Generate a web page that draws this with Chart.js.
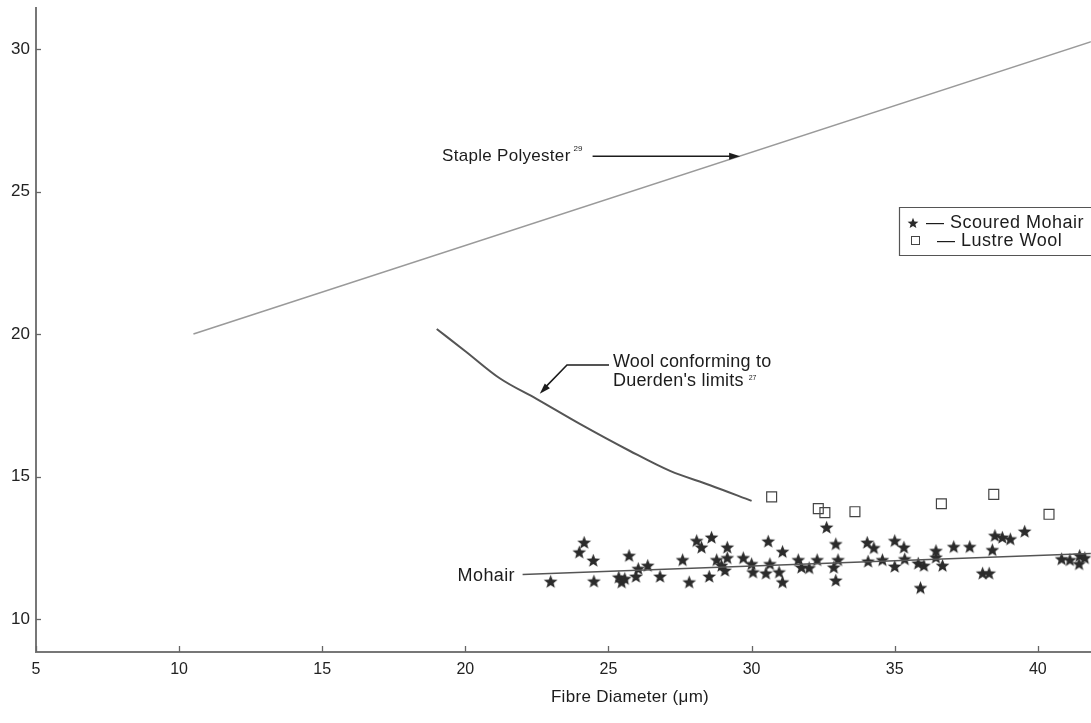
<!DOCTYPE html>
<html><head><meta charset="utf-8">
<script src="https://cdn.jsdelivr.net/npm/chart.js@4/dist/chart.umd.min.js"></script>
<style>html,body{margin:0;padding:0;background:#fff;overflow:hidden}#wrap{width:1091px;height:723px;position:relative;overflow:hidden}canvas{display:block}</style>
</head><body><div id="wrap"><canvas id="c" width="1099" height="723"></canvas></div>
<script>
// ---- data ----
const xTickValues = [5, 10, 15, 20, 25, 30, 35, 40];
const yTickValues = [10, 15, 20, 25, 30];

const mohairDiameter = [22.98,23.98,24.15,24.47,24.49,25.36,25.46,25.57,25.72,25.96,26.04,26.37,26.80,27.59,27.82,28.08,28.25,28.60,28.52,28.78,28.95,29.07,29.15,29.15,29.71,30.00,30.05,
  30.58,30.64,30.50,31.08,30.96,31.08,31.63,31.74,32.01,32.29,32.62,32.94,33.02,32.87,32.94,34.04,34.27,34.07,34.57,35.00,35.32,35.00,35.35,35.82,36.02,35.90,36.44,36.44,36.67,37.06,37.62,38.07,38.30,38.41,38.50,38.76,39.04,39.54,40.83,41.12,41.46,41.44,41.64];
const mohairValue = [11.32,12.35,12.69,12.06,11.33,11.47,11.30,11.42,12.23,11.50,11.77,11.88,11.50,12.08,11.30,12.75,12.52,12.87,11.50,12.08,11.88,11.71,12.52,12.15,12.15,11.94,11.65,
  12.73,11.94,11.61,12.37,11.65,11.30,12.08,11.82,11.80,12.08,13.22,12.64,12.08,11.82,11.36,12.69,12.50,12.03,12.08,12.75,12.52,11.85,12.11,11.96,11.88,11.10,12.40,12.17,11.88,12.54,12.54,11.61,11.61,12.43,12.93,12.87,12.81,13.08,12.11,12.08,12.23,11.94,12.15];

const lustreDiameter = [30.70, 32.33, 32.56, 33.61, 36.63, 38.46, 40.39];
const lustreValue    = [14.29, 13.88, 13.74, 13.77, 14.05, 14.38, 13.68];

const polyesterDiameter = [10.5, 42.0];
const polyesterValue    = [20.0, 30.3];

const woolDiameter = [19.0, 20.0, 21.2, 22.5, 24.0, 25.75, 27.15, 28.55, 30.0];
const woolValue    = [20.18, 19.4, 18.45, 17.72, 16.85, 15.9, 15.2, 14.7, 14.15];

const mohairFitDiameter = [22.0, 42.0];
const mohairFitValue    = [11.57, 12.31];

const seriesNames = ['Scoured Mohair', 'Lustre Wool'];

// ---- helpers ----
const FONT = '"Liberation Sans", Arial, Helvetica, sans-serif';
const zip = (xs, ys) => xs.map((x, i) => ({x: x, y: ys[i]}));

function makeStar(size, color) {
  const c = document.createElement('canvas');
  c.width = size; c.height = size;
  const g = c.getContext('2d');
  const cx = size / 2, cy = size / 2 + 0.5, R = size / 2 - 0.3, r = R * 0.43;
  g.beginPath();
  for (let i = 0; i < 10; i++) {
    const rad = (i % 2 === 0) ? R : r;
    const a = -Math.PI / 2 + i * Math.PI / 5;
    const px = cx + rad * Math.cos(a), py = cy + rad * Math.sin(a);
    if (i === 0) g.moveTo(px, py); else g.lineTo(px, py);
  }
  g.closePath();
  g.fillStyle = color;
  g.fill();
  return c;
}
const starImg = makeStar(15, '#2b2b2b');
const starLegend = makeStar(12, '#2b2b2b');

function arrowHead(ctx, x1, y1, x2, y2, len, wid) {
  const a = Math.atan2(y2 - y1, x2 - x1);
  ctx.beginPath();
  ctx.moveTo(x2, y2);
  ctx.lineTo(x2 - len * Math.cos(a) + wid * Math.sin(a), y2 - len * Math.sin(a) - wid * Math.cos(a));
  ctx.lineTo(x2 - len * Math.cos(a) - wid * Math.sin(a), y2 - len * Math.sin(a) + wid * Math.cos(a));
  ctx.closePath();
  ctx.fill();
}
function spaced(ctx, px) { if ('letterSpacing' in ctx) ctx.letterSpacing = px + 'px'; }

const decor = {
  id: 'decor',
  afterDraw(chart) {
    const ctx = chart.ctx;
    const xs = chart.scales.x, ys = chart.scales.y;
    const area = chart.chartArea;
    ctx.save();
    // inward tick marks
    ctx.strokeStyle = '#666';
    ctx.lineWidth = 1.3;
    xTickValues.forEach(v => {
      const p = Math.round(xs.getPixelForValue(v)) + 0.5;
      ctx.beginPath(); ctx.moveTo(p, area.bottom); ctx.lineTo(p, area.bottom - 6); ctx.stroke();
    });
    yTickValues.forEach(v => {
      const p = Math.round(ys.getPixelForValue(v)) + 0.5;
      ctx.beginPath(); ctx.moveTo(area.left, p); ctx.lineTo(area.left + 5, p); ctx.stroke();
    });

    ctx.fillStyle = '#1c1c1c';
    ctx.strokeStyle = '#1c1c1c';
    ctx.textBaseline = 'middle';

    // Staple Polyester label + arrow
    const polyTipX = xs.getPixelForValue(29.6), polyTipY = ys.getPixelForValue(26.24);
    ctx.font = '17px ' + FONT;
    spaced(ctx, 0.3);
    ctx.textAlign = 'left';
    const t1 = 'Staple Polyester';
    const t1x = 442;
    ctx.fillText(t1, t1x, polyTipY);
    const w1 = ctx.measureText(t1).width;
    spaced(ctx, 0);
    ctx.font = '8px ' + FONT;
    ctx.fillText('29', t1x + w1 + 3, polyTipY - 7);
    ctx.lineWidth = 1.6;
    ctx.beginPath(); ctx.moveTo(t1x + w1 + 22, polyTipY); ctx.lineTo(polyTipX - 4, polyTipY); ctx.stroke();
    arrowHead(ctx, t1x + w1 + 22, polyTipY, polyTipX, polyTipY, 11, 3.5);

    // Wool conforming label + arrow
    const wTipX = xs.getPixelForValue(22.6), wTipY = ys.getPixelForValue(17.8) - 3;
    ctx.font = '18px ' + FONT;
    spaced(ctx, 0.2);
    ctx.fillText('Wool conforming to', 613, 362);
    const t2 = "Duerden's limits";
    ctx.fillText(t2, 613, 381);
    const w2 = ctx.measureText(t2).width;
    spaced(ctx, 0);
    ctx.font = '7px ' + FONT;
    ctx.fillText('27', 613 + w2 + 5, 378);
    ctx.lineWidth = 1.6;
    ctx.beginPath();
    ctx.moveTo(609, 365); ctx.lineTo(567, 365); ctx.lineTo(wTipX + 4, wTipY - 5);
    ctx.stroke();
    arrowHead(ctx, 567, 365, wTipX, wTipY, 11, 3.5);

    // Mohair label
    ctx.font = '18px ' + FONT;
    spaced(ctx, 0.4);
    ctx.textAlign = 'right';
    ctx.fillText('Mohair', 515, ys.getPixelForValue(11.57) + 2);
    spaced(ctx, 0);

    // Legend box
    ctx.strokeStyle = '#555';
    ctx.lineWidth = 1.2;
    ctx.beginPath();
    ctx.moveTo(1099, 207.5); ctx.lineTo(899.5, 207.5); ctx.lineTo(899.5, 255.5); ctx.lineTo(1099, 255.5);
    ctx.stroke();
    ctx.drawImage(starLegend, 913 - 6, 223 - 6);
    ctx.lineWidth = 1;
    ctx.strokeStyle = '#444';
    ctx.strokeRect(911.5, 236.5, 8, 8);
    ctx.font = '18px ' + FONT;
    spaced(ctx, 0.5);
    ctx.textAlign = 'left';
    ctx.fillStyle = '#1c1c1c';
    ctx.fillText('\u2014 ' + seriesNames[0], 926, 223);
    ctx.fillText('\u2014 ' + seriesNames[1], 937, 241);
    spaced(ctx, 0);

    // Axis title
    ctx.font = '17px ' + FONT;
    spaced(ctx, 0.3);
    ctx.textAlign = 'center';
    ctx.fillText('Fibre Diameter (\u03bcm)', 630, 697);
    ctx.restore();
  }
};

new Chart(document.getElementById('c'), {
  type: 'scatter',
  data: {
    datasets: [
      { label: 'Staple Polyester', type: 'line', data: zip(polyesterDiameter, polyesterValue),
        borderColor: '#9a9a9a', borderWidth: 1.6, pointRadius: 0, fill: false },
      { label: "Wool conforming to Duerden's limits", type: 'line', data: zip(woolDiameter, woolValue),
        borderColor: '#555', borderWidth: 2, pointRadius: 0, fill: false, cubicInterpolationMode: 'monotone' },
      { label: 'Mohair', type: 'line', data: zip(mohairFitDiameter, mohairFitValue),
        borderColor: '#555', borderWidth: 1.5, pointRadius: 0, fill: false },
      { label: seriesNames[0], data: zip(mohairDiameter, mohairValue),
        pointStyle: starImg, pointRadius: 7, backgroundColor: '#2b2b2b', borderColor: '#2b2b2b' },
      { label: seriesNames[1], data: zip(lustreDiameter, lustreValue),
        pointStyle: 'rect', pointRadius: 7, borderWidth: 1.2, borderColor: '#444', backgroundColor: 'rgba(255,255,255,0)' }
    ]
  },
  options: {
    responsive: false,
    animation: false,
    devicePixelRatio: 1,
    layout: { padding: { top: 4, left: 0, right: 0, bottom: 0 } },
    plugins: { legend: { display: false }, tooltip: { enabled: false } },
    scales: {
      x: {
        type: 'linear', min: 5, max: 41.85,
        afterBuildTicks: s => { s.ticks = xTickValues.map(v => ({ value: v })); },
        afterFit: s => { s.height = 71; s.paddingLeft = 0; s.paddingRight = 0; s.paddingTop = 0; s.paddingBottom = 0; },
        grid: { drawOnChartArea: false, drawTicks: false },
        border: { display: true, color: '#777', width: 2 },
        ticks: { color: '#222', font: { size: 16, family: FONT }, padding: 8, maxRotation: 0, autoSkip: false }
      },
      y: {
        type: 'linear', min: 8.85, max: 31.43,
        afterBuildTicks: s => { s.ticks = yTickValues.map(v => ({ value: v })); },
        afterFit: s => { s.width = 36; s.paddingLeft = 0; s.paddingRight = 0; s.paddingTop = 0; s.paddingBottom = 0; },
        grid: { drawOnChartArea: false, drawTicks: false },
        border: { display: true, color: '#777', width: 2 },
        ticks: { color: '#222', font: { size: 17, family: FONT }, padding: 6, autoSkip: false }
      }
    }
  },
  plugins: [decor]
});
</script>
</body></html>
